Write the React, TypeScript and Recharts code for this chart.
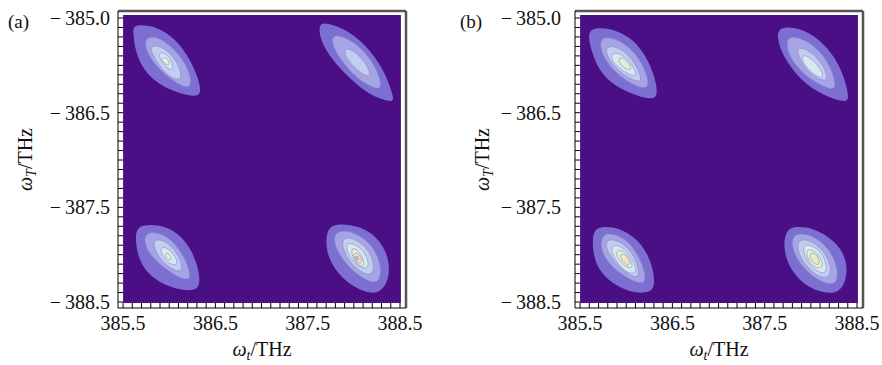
import {
  ReferenceArea,
  ReferenceLine,
  Scatter,
  ScatterChart,
  XAxis,
  YAxis,
} from "recharts";

type Pair = [number, number];

// axis ticks
const xMajor = [385.5, 386.5, 387.5, 388.5];
const xTickLabels = ["385.5", "386.5", "387.5", "388.5"];
const yMajor = [-388.5, -387.5, -386.5, -385.5];
const yTickLabels = ["\u2212\u2009388.5", "\u2212\u2009387.5", "\u2212\u2009386.5", "\u2212\u2009385.0"];

const xDomain: [number, number] = [385.445, 388.565];
const yDomain: [number, number] = [-388.563, -385.426];

// contour levels, outer to inner
const aTL1: Pair[] = [[385.61,-385.59],[385.68,-385.57],[385.87,-385.59],[386.08,-385.73],[386.23,-385.94],[386.32,-386.15],[386.35,-386.31],[386.26,-386.33],[386.08,-386.29],[385.87,-386.19],[385.72,-386.05],[385.63,-385.84],[385.61,-385.66]];
const aTL2: Pair[] = [[385.74,-385.7],[385.87,-385.7],[386.01,-385.79],[386.14,-385.92],[386.23,-386.1],[386.24,-386.23],[386.15,-386.23],[385.99,-386.13],[385.83,-385.98],[385.74,-385.82]];
const aTL3: Pair[] = [[385.81,-385.79],[385.92,-385.8],[386.03,-385.89],[386.11,-386.01],[386.14,-386.15],[386.06,-386.15],[385.94,-386.07],[385.85,-385.94],[385.8,-385.84]];
const aTL4: Pair[] = [[385.88,-385.86],[385.96,-385.87],[386.02,-385.94],[386.05,-386.05],[385.99,-386.04],[385.91,-385.96]];
const aTL5: Pair[] = [[385.92,-385.91],[385.98,-385.92],[386.01,-385.99],[385.97,-386.0],[385.92,-385.95]];

const aTR1: Pair[] = [[387.62,-385.56],[387.71,-385.55],[387.96,-385.64],[388.18,-385.84],[388.34,-386.08],[388.41,-386.28],[388.44,-386.38],[388.36,-386.38],[388.14,-386.3],[387.89,-386.08],[387.71,-385.87],[387.63,-385.7]];
const aTR2: Pair[] = [[387.76,-385.69],[387.85,-385.68],[388.03,-385.77],[388.19,-385.94],[388.28,-386.12],[388.3,-386.25],[388.21,-386.24],[388.03,-386.14],[387.87,-385.96],[387.77,-385.8]];
const aTR3: Pair[] = [[387.89,-385.82],[387.98,-385.83],[388.09,-385.93],[388.16,-386.03],[388.18,-386.12],[388.1,-386.1],[387.99,-386.01],[387.91,-385.91]];

const aBL1: Pair[] = [[385.65,-387.7],[385.79,-387.68],[385.97,-387.7],[386.14,-387.81],[386.26,-387.98],[386.33,-388.2],[386.33,-388.35],[386.23,-388.39],[386.01,-388.35],[385.79,-388.23],[385.67,-388.06],[385.63,-387.84]];
const aBL2: Pair[] = [[385.74,-387.77],[385.87,-387.76],[386.01,-387.83],[386.14,-387.98],[386.22,-388.16],[386.23,-388.27],[386.12,-388.25],[385.94,-388.14],[385.79,-388.0],[385.73,-387.88]];
const aBL3: Pair[] = [[385.82,-387.84],[385.92,-387.84],[386.03,-387.91],[386.12,-388.04],[386.15,-388.18],[386.06,-388.17],[385.94,-388.09],[385.85,-387.97]];
const aBL4: Pair[] = [[385.89,-387.92],[385.97,-387.92],[386.06,-388.0],[386.1,-388.11],[386.03,-388.11],[385.94,-388.04]];
const aBL5: Pair[] = [[385.96,-387.98],[386.0,-387.99],[386.03,-388.05],[385.99,-388.06],[385.96,-388.02]];

const aBR1: Pair[] = [[387.72,-387.7],[387.85,-387.67],[388.07,-387.7],[388.25,-387.81],[388.36,-387.98],[388.39,-388.16],[388.36,-388.3],[388.28,-388.4],[388.14,-388.41],[387.92,-388.3],[387.74,-388.09],[387.69,-387.88]];
const aBR2: Pair[] = [[387.8,-387.76],[387.92,-387.74],[388.1,-387.81],[388.23,-387.95],[388.3,-388.13],[388.28,-388.28],[388.19,-388.3],[388.01,-388.2],[387.85,-388.02],[387.78,-387.86]];
const aBR3: Pair[] = [[387.87,-387.82],[387.99,-387.82],[388.14,-387.92],[388.22,-388.07],[388.21,-388.21],[388.12,-388.21],[387.98,-388.11],[387.88,-387.95]];
const aBR4: Pair[] = [[387.92,-387.87],[388.03,-387.89],[388.14,-388.0],[388.17,-388.14],[388.09,-388.15],[387.98,-388.06],[387.92,-387.95]];
const aBR5: Pair[] = [[387.97,-387.92],[388.05,-387.95],[388.11,-388.06],[388.11,-388.13],[388.04,-388.11],[387.98,-388.02]];
const aBR6: Pair[] = [[387.99,-387.98],[388.05,-387.98],[388.09,-388.06],[388.08,-388.1],[388.01,-388.07]];
const aBR7: Pair[] = [[388.01,-388.01],[388.05,-388.02],[388.06,-388.06],[388.02,-388.06]];

const bTL1: Pair[] = [[385.61,-385.62],[385.72,-385.6],[385.9,-385.63],[386.08,-385.73],[386.22,-385.91],[386.31,-386.12],[386.35,-386.33],[386.26,-386.36],[386.08,-386.31],[385.86,-386.21],[385.7,-386.05],[385.62,-385.84],[385.59,-385.7]];
const bTL2: Pair[] = [[385.72,-385.71],[385.83,-385.7],[385.99,-385.77],[386.13,-385.91],[386.22,-386.08],[386.25,-386.24],[386.15,-386.24],[385.97,-386.15],[385.81,-386.0],[385.72,-385.84]];
const bTL3: Pair[] = [[385.79,-385.8],[385.88,-385.8],[386.01,-385.87],[386.11,-386.0],[386.18,-386.17],[386.1,-386.17],[385.95,-386.09],[385.83,-385.96],[385.78,-385.87]];
const bTL4: Pair[] = [[385.84,-385.87],[385.93,-385.87],[386.03,-385.95],[386.11,-386.07],[386.1,-386.12],[386.01,-386.09],[385.9,-386.01],[385.84,-385.94]];
const bTL5: Pair[] = [[385.91,-385.92],[385.97,-385.92],[386.04,-385.99],[386.06,-386.05],[386.0,-386.04],[385.93,-385.99]];

const bTR1: Pair[] = [[387.64,-385.62],[387.74,-385.59],[387.92,-385.62],[388.1,-385.73],[388.26,-385.91],[388.36,-386.12],[388.4,-386.28],[388.41,-386.38],[388.32,-386.38],[388.1,-386.3],[387.88,-386.15],[387.7,-385.91],[387.64,-385.73]];
const bTR2: Pair[] = [[387.74,-385.7],[387.85,-385.7],[388.01,-385.77],[388.15,-385.91],[388.24,-386.08],[388.28,-386.25],[388.19,-386.25],[387.99,-386.15],[387.83,-386.0],[387.74,-385.84]];
const bTR3: Pair[] = [[387.84,-385.81],[387.94,-385.82],[388.06,-385.91],[388.15,-386.03],[388.19,-386.16],[388.1,-386.16],[387.97,-386.07],[387.88,-385.94]];
const bTR4: Pair[] = [[387.9,-385.89],[387.97,-385.9],[388.06,-385.98],[388.13,-386.08],[388.13,-386.14],[388.05,-386.11],[387.96,-386.03],[387.91,-385.96]];

const bBL1: Pair[] = [[385.65,-387.72],[385.77,-387.7],[385.93,-387.72],[386.1,-387.82],[386.23,-387.98],[386.3,-388.18],[386.31,-388.37],[386.2,-388.41],[386.01,-388.39],[385.79,-388.27],[385.66,-388.09],[385.63,-387.88]];
const bBL2: Pair[] = [[385.74,-387.79],[385.84,-387.77],[385.99,-387.83],[386.11,-387.97],[386.19,-388.14],[386.22,-388.3],[386.11,-388.3],[385.93,-388.2],[385.78,-388.06],[385.72,-387.92]];
const bBL3: Pair[] = [[385.79,-387.84],[385.88,-387.84],[386.01,-387.91],[386.11,-388.06],[386.15,-388.23],[386.07,-388.24],[385.93,-388.14],[385.82,-388.0],[385.78,-387.92]];
const bBL4: Pair[] = [[385.84,-387.9],[385.93,-387.9],[386.02,-387.98],[386.1,-388.11],[386.11,-388.2],[386.02,-388.2],[385.92,-388.11],[385.84,-387.98]];
const bBL5: Pair[] = [[385.9,-387.95],[385.97,-387.96],[386.04,-388.04],[386.08,-388.14],[386.01,-388.14],[385.93,-388.07],[385.89,-388.0]];
const bBL6: Pair[] = [[385.94,-387.99],[386.0,-388.0],[386.04,-388.07],[386.03,-388.12],[385.98,-388.09],[385.94,-388.04]];

const bBR1: Pair[] = [[387.73,-387.73],[387.85,-387.7],[388.03,-387.72],[388.21,-387.82],[388.34,-387.95],[388.4,-388.13],[388.37,-388.3],[388.3,-388.4],[388.14,-388.41],[387.92,-388.32],[387.76,-388.13],[387.7,-387.92]];
const bBR2: Pair[] = [[387.81,-387.79],[387.92,-387.77],[388.08,-387.83],[388.21,-387.96],[388.29,-388.13],[388.29,-388.3],[388.19,-388.32],[388.01,-388.23],[387.85,-388.06],[387.79,-387.9]];
const bBR3: Pair[] = [[387.87,-387.84],[387.97,-387.84],[388.1,-387.92],[388.19,-388.04],[388.23,-388.2],[388.15,-388.26],[388.03,-388.2],[387.9,-388.06],[387.85,-387.93]];
const bBR4: Pair[] = [[387.92,-387.89],[388.01,-387.9],[388.11,-387.97],[388.17,-388.09],[388.17,-388.2],[388.08,-388.19],[387.97,-388.09],[387.92,-387.98]];
const bBR5: Pair[] = [[387.96,-387.94],[388.03,-387.95],[388.1,-388.02],[388.14,-388.13],[388.07,-388.15],[387.99,-388.09],[387.95,-388.0]];
const bBR6: Pair[] = [[387.99,-387.98],[388.05,-387.98],[388.09,-388.05],[388.09,-388.11],[388.04,-388.1],[387.99,-388.04]];

const panelA: Pair[][][] = [
  [aTL1, aTL2, aTL3, aTL4, aTL5],
  [aTR1, aTR2, aTR3],
  [aBL1, aBL2, aBL3, aBL4, aBL5],
  [aBR1, aBR2, aBR3, aBR4, aBR5, aBR6, aBR7],
];
const panelB: Pair[][][] = [
  [bTL1, bTL2, bTL3, bTL4, bTL5],
  [bTR1, bTR2, bTR3, bTR4],
  [bBL1, bBL2, bBL3, bBL4, bBL5, bBL6],
  [bBR1, bBR2, bBR3, bBR4, bBR5, bBR6],
];

const bgColor = "#4b0f85";
const levelColors = ["#7d6ed2", "#a5a5e6", "#c3cdf0", "#d7e8f0", "#e1f0d2", "#efe6c2", "#e3b48e"];
const textStyle = { fontFamily: "Liberation Serif, serif" };

const toPoints = (pairs: Pair[]) => pairs.map(([x, y]) => ({ x, y }));
const noDot = () => <g />;

const xTicks = Array.from({ length: 31 }, (_, i) => Math.round((385.5 + i * 0.1) * 10) / 10);
const yTicks = Array.from({ length: 31 }, (_, i) => Math.round((-388.5 + i * 0.1) * 10) / 10);

const majorIndex = (list: number[], v: number) => list.findIndex((m) => Math.abs(m - v) < 1e-6);

const XTick = (props: any) => {
  const { x, y, payload } = props;
  const i = majorIndex(xMajor, payload.value);
  return (
    <g>
      <line x1={x} y1={y} x2={x} y2={y - 5} stroke="#000" strokeWidth={1} />
      {i >= 0 && (
        <text x={x} y={y + 22} textAnchor="middle" style={textStyle} fontSize={20} fill="#111">
          {xTickLabels[i]}
        </text>
      )}
    </g>
  );
};

const YTick = (props: any) => {
  const { x, y, payload, labelGap } = props;
  const i = majorIndex(yMajor, payload.value);
  return (
    <g>
      <line x1={x} y1={y} x2={x + 5} y2={y} stroke="#000" strokeWidth={1} />
      {i >= 0 && (
        <text x={x - (labelGap ?? 8)} y={y + 7} textAnchor="end" style={textStyle} fontSize={20} fill="#111">
          {yTickLabels[i]}
        </text>
      )}
    </g>
  );
};

const XTitle = (props: any) => {
  const vb = props.viewBox ?? { x: 118, y: 308, width: 288, height: 57 };
  return (
    <text x={vb.x + vb.width / 2} y={vb.y + 48} textAnchor="middle" style={textStyle} fontSize={20} fill="#111">
      <tspan fontStyle="italic">ω</tspan>
      <tspan fontStyle="italic" fontSize={14} dy={4}>t</tspan>
      <tspan dy={-4}>/THz</tspan>
    </text>
  );
};

const YTitle = (props: any) => {
  const vb = props.viewBox ?? { x: 0, y: 11, width: 118, height: 297 };
  const cx = 32;
  const cy = vb.y + vb.height / 2;
  return (
    <g>
      <text
        x={cx}
        y={cy}
        transform={`rotate(-90, ${cx}, ${cy})`}
        textAnchor="middle"
        style={textStyle}
        fontSize={20}
        fill="#111"
      >
        <tspan fontStyle="italic">ω</tspan>
        <tspan fontStyle="italic" fontSize={14} dy={4}>T</tspan>
        <tspan dy={-4}>/THz</tspan>
      </text>
      <text x={props.tagX} y={28} style={textStyle} fontSize={19} fill="#111">
        {props.tag}
      </text>
    </g>
  );
};

interface PanelProps {
  blobs: Pair[][][];
  left: number;
  tag: string;
  tagX: number;
  labelGap: number;
}

const Panel = ({ blobs, left, tag, tagX, labelGap }: PanelProps) => (
  <div style={{ position: "absolute", left, top: 0 }}>
    <ScatterChart width={441} height={365} margin={{ top: 11, right: 35, bottom: 0, left: 0 }}>
      <XAxis
        type="number"
        dataKey="x"
        domain={xDomain}
        allowDataOverflow
        ticks={xTicks}
        interval={0}
        tickSize={0}
        tickMargin={0}
        height={57}
        axisLine={{ stroke: "#000", strokeWidth: 1 }}
        tickLine={false}
        tick={<XTick />}
        label={<XTitle />}
      />
      <YAxis
        type="number"
        dataKey="y"
        domain={yDomain}
        allowDataOverflow
        ticks={yTicks}
        interval={0}
        tickSize={0}
        tickMargin={0}
        width={118}
        axisLine={{ stroke: "#000", strokeWidth: 1 }}
        tickLine={false}
        tick={<YTick labelGap={labelGap} />}
        label={<YTitle tag={tag} tagX={tagX} />}
      />
      <ReferenceArea
        x1={385.5}
        x2={388.51}
        y1={-388.51}
        y2={-385.468}
        fill={bgColor}
        fillOpacity={1}
        stroke="none"
      />
      {blobs.flatMap((levels, b) =>
        levels.map((pairs, l) => (
          <Scatter
            key={`${b}-${l}`}
            data={toPoints(pairs)}
            fill={levelColors[l]}
            line={{
              fill: levelColors[l],
              stroke: l === 0 ? "none" : "#8a86c8",
              strokeWidth: 0.6,
            }}
            lineType="joint"
            lineJointType="basisClosed"
            shape={noDot}
            legendType="none"
            isAnimationActive={false}
          />
        ))
      )}
      <ReferenceLine y={yDomain[1]} stroke="#555" strokeWidth={2.5} />
      <ReferenceLine x={xDomain[1]} stroke="#555" strokeWidth={2.5} />
    </ScatterChart>
  </div>
);

export default function App() {
  return (
    <div
      style={{
        position: "absolute",
        left: 0,
        top: 0,
        width: 882,
        height: 365,
        overflow: "hidden",
        background: "#fff",
      }}
    >
      <Panel blobs={panelA} left={0} tag="(a)" tagX={8} labelGap={8} />
      <Panel blobs={panelB} left={457} tag="(b)" tagX={3} labelGap={14} />
    </div>
  );
}
